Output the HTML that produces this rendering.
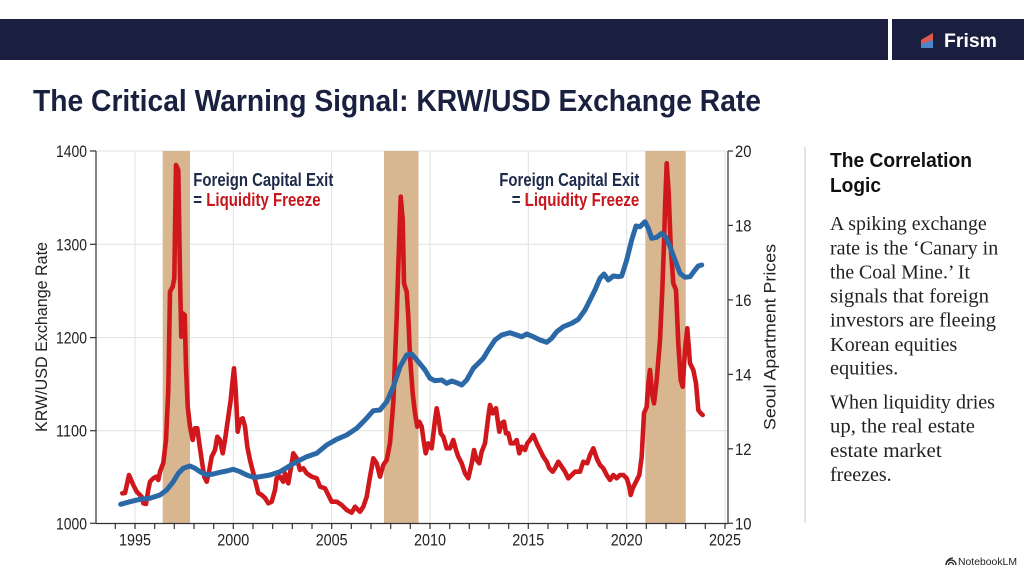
<!DOCTYPE html>
<html><head><meta charset="utf-8"><style>
html,body{margin:0;padding:0;background:#fff;}
svg{display:block;}
</style></head><body>
<svg width="1024" height="572" viewBox="0 0 1024 572" xmlns="http://www.w3.org/2000/svg" font-family="'Liberation Sans', sans-serif">
<rect width="1024" height="572" fill="#ffffff"/>
<!-- header -->
<rect x="0" y="19" width="888" height="41" fill="#1b1f3f"/>
<rect x="892" y="19" width="132" height="41" fill="#1b1f3f"/>
<polygon points="921,40 933,33 933,48 921,48" fill="#4a86c8"/>
<polygon points="921,40 933,33 933,40 921,44" fill="#e0594e"/>
<text x="944" y="47" font-size="19" font-weight="bold" fill="#ffffff" textLength="53" lengthAdjust="spacingAndGlyphs">Frism</text>
<!-- title -->
<text x="33" y="111" font-size="31" font-weight="bold" fill="#1a2140" textLength="728" lengthAdjust="spacingAndGlyphs">The Critical Warning Signal: KRW/USD Exchange Rate</text>

<!-- gridlines -->
<g stroke="#e0e0e0" stroke-width="1">
<line x1="96" y1="151" x2="728" y2="151"/>
<line x1="96" y1="244.3" x2="728" y2="244.3"/>
<line x1="96" y1="337.6" x2="728" y2="337.6"/>
<line x1="96" y1="430.7" x2="728" y2="430.7"/>
<line x1="135" y1="151" x2="135" y2="523"/>
<line x1="233.3" y1="151" x2="233.3" y2="523"/>
<line x1="331.7" y1="151" x2="331.7" y2="523"/>
<line x1="430" y1="151" x2="430" y2="523"/>
<line x1="528.3" y1="151" x2="528.3" y2="523"/>
<line x1="626.7" y1="151" x2="626.7" y2="523"/>
<line x1="725" y1="151" x2="725" y2="523"/>
</g>
<!-- bands -->
<g fill="#d5b28a" opacity="0.95">
<rect x="162.7" y="151" width="27.3" height="372"/>
<rect x="384" y="151" width="34.5" height="372"/>
<rect x="645.3" y="151" width="40.4" height="372"/>
</g>

<!-- series -->
<polyline fill="none" stroke="#d0181c" stroke-width="4.6" stroke-linejoin="round" stroke-linecap="round" points="122.3,493.3 125,493 129,475 133.3,485 136.7,491.7 141.7,496.7 143.3,503.3 146,504 148.3,490 150,481.7 153.3,478.3 156,476.7 158.3,480 160,471.7 163.3,463 166,440 168.3,390 170,291.7 172.7,286.7 174.3,278.3 176,165 178.3,170 180,276.7 181.3,336.7 182.7,313.3 184.7,315 186,366.7 187.7,406.7 190,426.7 192.7,440 195,428.3 197.3,428.3 199.3,443.3 201.7,460 204.3,476.7 206.7,481.7 209.3,470 211.7,456.7 215,450 217.3,436.7 220,440 222.7,453.3 225,440 228.3,416.7 230.7,400 232.7,380 234,368.3 235.7,390 237.7,431.7 240,420 242.7,418.3 245,426.7 247.3,446.7 250,460 253.3,473 258.3,493 261.7,495 265,498 268.3,503.3 271.7,501.7 275,490 276.7,478 280,476.7 283.3,481.7 285,473.3 288.3,483.3 291.7,463.3 293.3,453.3 296.7,458.3 300,470 303.3,468.3 306.7,473.3 311.7,476.7 316.7,478.3 320,486.7 325,488.3 328.3,495 331.7,501.7 336.7,501.7 341.7,505 346.7,510 351.7,512.7 355,506.7 360,511.7 363.3,506.7 366.7,496.7 370,476.7 373.3,458.3 376.7,463.3 380,476.7 383.3,465 386.7,460 390,443 393.3,403 396.7,316.7 398.3,266.7 400.7,196.7 402.7,220 404,283.3 406.7,291.7 408.3,316.7 410,356.7 412.7,393.3 415,413.3 417.3,426.7 419.3,421.7 421.7,426.7 424,443.3 425.7,453.3 428.3,443.3 431.7,448.3 435,420 436.7,408.3 438.3,416.7 440.7,433.3 443.3,436.7 446.7,448.3 450,448.3 453.3,440 456,450 458.3,456.7 461.7,463.3 465,473.3 468.3,478.3 471.7,463.3 474,450 476.7,460 479.3,463.3 481.7,451.7 485,443.3 488.3,416.7 490,405 492.7,413.3 496,408.3 499.3,431.7 501.7,423.3 504,421.7 506,433.3 508.3,433.3 510.7,443.3 514,443.3 516.7,440 519.3,453.3 521.7,446.7 525,450 527.3,443.3 530,440 533.3,435 536.7,443.3 540,450 543.3,456.7 546.7,461.7 549.3,468.3 552.7,471.7 555,468.3 558.3,461.7 561.7,466.7 565,471.7 568.3,478.3 571.7,475 575,471.7 580,471.7 583.3,461.7 587.3,463.3 590,455 593.3,448.3 596.7,458.3 600,465 603.3,468.3 606.7,475 610,480 613.3,475 616.7,478.3 620,475 623.3,475 626.7,478.3 629.3,486.7 630.7,495 632.7,488.3 636,481.7 639.3,475 641.7,456.7 644,413.3 646.7,406.7 648.3,383.3 650,370 652,393.3 654,403.3 656.7,380 660,340 662.3,290 664,243.3 665.3,200 666.7,163.3 668.7,193.3 670.7,246.7 673.3,283.3 676,290 678.3,343.3 680.7,380 682.7,386.7 685,350 687.3,328.3 690,363.3 693.3,370 696,383.3 698.3,410 700.7,413.3 702.7,415"/>
<polyline fill="none" stroke="#2b68a6" stroke-width="5" stroke-linejoin="round" stroke-linecap="round" points="120.7,504.3 130,501.7 140,499.3 150,498.3 160,495 166.7,490 173.3,481.7 178.3,473.3 183.3,468.3 190,466 195,468.3 200,471.7 206.7,475 213.3,474 220,472.3 226.7,471 233.3,469.3 240,471.7 246.7,475 253.3,477.3 260,476.7 270,475 280,471.7 296.7,461.7 306.7,456.7 316.7,453.3 326.7,445 336.7,439.3 346.7,435 356.7,428.3 365,420 373.3,410.7 380,410 386.7,401.7 393.3,386.7 400,366.7 406.7,355 411.7,354 418.3,361.7 425,370 430,378.3 435,380.7 441.7,380 446.7,383.3 451.7,381 456.7,382.7 461.7,385 466.7,380 473.3,368.3 478.3,363.3 483.3,358.3 488.3,350 495,340 501.7,335 510,332.7 516.7,335 521.7,336.7 526.7,334 533.3,336.7 540,340 546.7,342.3 551.7,338.3 556.7,331.7 563.3,326.7 571.7,323.3 578.3,319.3 585,310 590,300 595,290 600,278.3 604,274 608.3,280 613.3,276 618.3,276.7 621.7,276 626.7,260 631.7,240 636,226 640,226.7 645,221.7 648.3,228.3 651.7,238.3 656.7,237.3 661.7,233.3 666,237.3 670,246.7 675,260 680,273.3 685,277.3 690,276.7 695,270 698.3,266 701.7,265"/>

<!-- axes -->
<g stroke="#333" stroke-width="1.2" fill="none">
<line x1="96" y1="151" x2="96" y2="523.5"/>
<line x1="728" y1="151" x2="728" y2="523.5"/>
<line x1="96" y1="523.5" x2="728" y2="523.5"/>
<line x1="90" y1="151" x2="96" y2="151"/>
<line x1="90" y1="244.3" x2="96" y2="244.3"/>
<line x1="90" y1="337.6" x2="96" y2="337.6"/>
<line x1="90" y1="430.7" x2="96" y2="430.7"/>
<line x1="90" y1="523.3" x2="96" y2="523.3"/>
<line x1="728" y1="151" x2="733" y2="151"/>
<line x1="728" y1="225.4" x2="733" y2="225.4"/>
<line x1="728" y1="299.9" x2="733" y2="299.9"/>
<line x1="728" y1="374.4" x2="733" y2="374.4"/>
<line x1="728" y1="448.8" x2="733" y2="448.8"/>
<line x1="728" y1="523.3" x2="733" y2="523.3"/>
<path d="M115.3 523v6M135 523v6M154.7 523v6M174.3 523v6M194 523v6M213.7 523v6M233.3 523v6M253 523v6M272.7 523v6M292.3 523v6M312 523v6M331.7 523v6M351.3 523v6M371 523v6M390.7 523v6M410.3 523v6M430 523v6M449.7 523v6M469.3 523v6M489 523v6M508.7 523v6M528.3 523v6M548 523v6M567.7 523v6M587.3 523v6M607 523v6M626.7 523v6M646.3 523v6M666 523v6M685.7 523v6M705.3 523v6M725 523v6"/>
</g>

<!-- tick labels -->
<g font-size="17" fill="#222" text-anchor="end">
<text x="87" y="157" textLength="31" lengthAdjust="spacingAndGlyphs">1400</text>
<text x="87" y="250.3" textLength="31" lengthAdjust="spacingAndGlyphs">1300</text>
<text x="87" y="343.6" textLength="31" lengthAdjust="spacingAndGlyphs">1200</text>
<text x="87" y="436.7" textLength="31" lengthAdjust="spacingAndGlyphs">1100</text>
<text x="87" y="529.3" textLength="31" lengthAdjust="spacingAndGlyphs">1000</text>
</g>
<g font-size="17" fill="#222">
<text x="735" y="157" textLength="16.5" lengthAdjust="spacingAndGlyphs">20</text>
<text x="735" y="231.4" textLength="16.5" lengthAdjust="spacingAndGlyphs">18</text>
<text x="735" y="305.9" textLength="16.5" lengthAdjust="spacingAndGlyphs">16</text>
<text x="735" y="380.4" textLength="16.5" lengthAdjust="spacingAndGlyphs">14</text>
<text x="735" y="454.8" textLength="16.5" lengthAdjust="spacingAndGlyphs">12</text>
<text x="735" y="529.3" textLength="16.5" lengthAdjust="spacingAndGlyphs">10</text>
</g>
<g font-size="17" fill="#222" text-anchor="middle">
<text x="135" y="545.5" textLength="32" lengthAdjust="spacingAndGlyphs">1995</text>
<text x="233.3" y="545.5" textLength="32" lengthAdjust="spacingAndGlyphs">2000</text>
<text x="331.7" y="545.5" textLength="32" lengthAdjust="spacingAndGlyphs">2005</text>
<text x="430" y="545.5" textLength="32" lengthAdjust="spacingAndGlyphs">2010</text>
<text x="528.3" y="545.5" textLength="32" lengthAdjust="spacingAndGlyphs">2015</text>
<text x="626.7" y="545.5" textLength="32" lengthAdjust="spacingAndGlyphs">2020</text>
<text x="725" y="545.5" textLength="32" lengthAdjust="spacingAndGlyphs">2025</text>
</g>
<!-- axis labels -->
<text transform="translate(47,337) rotate(-90)" text-anchor="middle" font-size="17" fill="#222" textLength="190" lengthAdjust="spacingAndGlyphs">KRW/USD Exchange Rate</text>
<text transform="translate(775.5,337) rotate(-90)" text-anchor="middle" font-size="17" fill="#222" textLength="186" lengthAdjust="spacingAndGlyphs">Seoul Apartment Prices</text>

<!-- annotations -->
<g font-size="18" font-weight="bold">
<text x="193.3" y="186" fill="#1e2a4a" textLength="140" lengthAdjust="spacingAndGlyphs">Foreign Capital Exit</text>
<text x="193.3" y="206" textLength="127.3" lengthAdjust="spacingAndGlyphs"><tspan fill="#1e2a4a">= </tspan><tspan fill="#c8161d">Liquidity Freeze</tspan></text>
<text x="499.3" y="186" fill="#1e2a4a" textLength="140" lengthAdjust="spacingAndGlyphs">Foreign Capital Exit</text>
<text x="511.7" y="206" textLength="127.6" lengthAdjust="spacingAndGlyphs"><tspan fill="#1e2a4a">= </tspan><tspan fill="#c8161d">Liquidity Freeze</tspan></text>
</g>

<!-- right panel -->
<line x1="805" y1="147" x2="805" y2="523" stroke="#d0d0d0" stroke-width="1.2"/>
<g font-size="20" font-weight="bold" fill="#111">
<text x="830" y="167" textLength="142" lengthAdjust="spacingAndGlyphs">The Correlation</text>
<text x="830" y="192" textLength="51" lengthAdjust="spacingAndGlyphs">Logic</text>
</g>
<g font-family="'Liberation Serif', serif" font-size="20" fill="#222">
<text x="830" y="230" textLength="156.7" lengthAdjust="spacingAndGlyphs">A spiking exchange</text>
<text x="830" y="254.3" textLength="168.3" lengthAdjust="spacingAndGlyphs">rate is the ‘Canary in</text>
<text x="830" y="278.4" textLength="140" lengthAdjust="spacingAndGlyphs">the Coal Mine.’ It</text>
<text x="830" y="302.6" textLength="159" lengthAdjust="spacingAndGlyphs">signals that foreign</text>
<text x="830" y="326.7" textLength="166" lengthAdjust="spacingAndGlyphs">investors are fleeing</text>
<text x="830" y="350.8" textLength="127.3" lengthAdjust="spacingAndGlyphs">Korean equities</text>
<text x="830" y="374.7" textLength="68.3" lengthAdjust="spacingAndGlyphs">equities.</text>
<text x="830" y="408.5" textLength="165" lengthAdjust="spacingAndGlyphs">When liquidity dries</text>
<text x="830" y="432.7" textLength="145" lengthAdjust="spacingAndGlyphs">up, the real estate</text>
<text x="830" y="456.8" textLength="111.7" lengthAdjust="spacingAndGlyphs">estate market</text>
<text x="830" y="480.8" textLength="61.7" lengthAdjust="spacingAndGlyphs">freezes.</text>
</g>

<!-- NotebookLM -->
<g fill="none" stroke="#222" stroke-width="1.3">
<path d="M946 565 a5 5 0 0 1 10 0"/>
<path d="M948.5 565 a2.5 2.5 0 0 1 5 0"/>
<path d="M946 565 a7 7 0 0 1 7 -7"/>
</g>
<text x="958" y="565" font-size="10.5" fill="#222" textLength="59" lengthAdjust="spacingAndGlyphs">NotebookLM</text>
</svg>
</body></html>
